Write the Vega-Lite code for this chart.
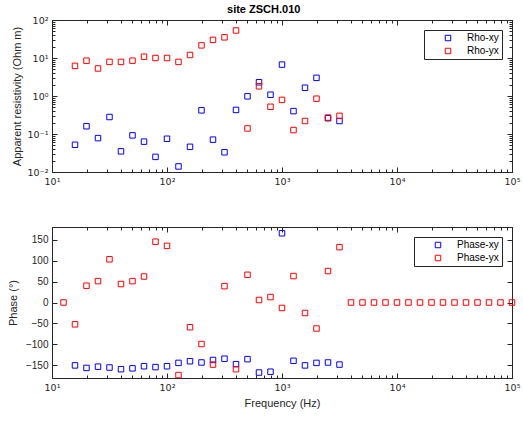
{
  "$schema": "https://vega.github.io/schema/vega-lite/v6.json",
  "padding": {"left": 6, "top": 3, "right": 0, "bottom": 0},
  "title": {"text": "site ZSCH.010", "fontSize": 11, "fontWeight": "bold", "font": "Liberation Sans", "color": "#000000", "offset": 0, "anchor": "middle"},
  "config": {
    "font": "Liberation Sans",
    "view": {"stroke": "#262626", "strokeWidth": 1},
    "axis": {"labelFont": "Liberation Sans", "titleFont": "Liberation Sans", "labelColor": "#262626", "titleColor": "#262626", "domainColor": "#262626", "tickColor": "#262626", "grid": false, "labelFontSize": 10, "titleFontSize": 11, "titleFontWeight": "normal", "labelFlush": false, "labelOverlap": false},
    "legend": {"orient": "top-right", "offset": 10, "strokeColor": "#262626", "fillColor": "white", "padding": 3, "symbolOffset": 16, "labelOffset": 14, "rowPadding": 3, "symbolSize": 30, "symbolStrokeWidth": 1, "labelFontSize": 10, "labelColor": "#000000", "labelFont": "Liberation Sans"}
  },
  "datasets": {
    "rho": [
      {"freq": 15.85, "series": "Rho-xy", "value": 0.052},
      {"freq": 19.95, "series": "Rho-xy", "value": 0.16},
      {"freq": 25.12, "series": "Rho-xy", "value": 0.078},
      {"freq": 31.62, "series": "Rho-xy", "value": 0.28},
      {"freq": 39.81, "series": "Rho-xy", "value": 0.035},
      {"freq": 50.12, "series": "Rho-xy", "value": 0.092},
      {"freq": 63.1, "series": "Rho-xy", "value": 0.063},
      {"freq": 79.43, "series": "Rho-xy", "value": 0.025},
      {"freq": 100, "series": "Rho-xy", "value": 0.075},
      {"freq": 125.9, "series": "Rho-xy", "value": 0.014},
      {"freq": 158.5, "series": "Rho-xy", "value": 0.046},
      {"freq": 199.5, "series": "Rho-xy", "value": 0.42},
      {"freq": 251.2, "series": "Rho-xy", "value": 0.071},
      {"freq": 316.2, "series": "Rho-xy", "value": 0.033},
      {"freq": 398.1, "series": "Rho-xy", "value": 0.43},
      {"freq": 501.2, "series": "Rho-xy", "value": 0.98},
      {"freq": 631, "series": "Rho-xy", "value": 2.3},
      {"freq": 794.3, "series": "Rho-xy", "value": 1.08},
      {"freq": 1000, "series": "Rho-xy", "value": 6.7},
      {"freq": 1259, "series": "Rho-xy", "value": 0.4},
      {"freq": 1585, "series": "Rho-xy", "value": 1.65},
      {"freq": 1995, "series": "Rho-xy", "value": 3.0},
      {"freq": 2512, "series": "Rho-xy", "value": 0.26},
      {"freq": 3162, "series": "Rho-xy", "value": 0.22},
      {"freq": 15.85, "series": "Rho-yx", "value": 6.2},
      {"freq": 19.95, "series": "Rho-yx", "value": 8.5},
      {"freq": 25.12, "series": "Rho-yx", "value": 5.3},
      {"freq": 31.62, "series": "Rho-yx", "value": 7.9},
      {"freq": 39.81, "series": "Rho-yx", "value": 7.9},
      {"freq": 50.12, "series": "Rho-yx", "value": 8.5},
      {"freq": 63.1, "series": "Rho-yx", "value": 10.8},
      {"freq": 79.43, "series": "Rho-yx", "value": 10},
      {"freq": 100, "series": "Rho-yx", "value": 10},
      {"freq": 125.9, "series": "Rho-yx", "value": 7.9},
      {"freq": 158.5, "series": "Rho-yx", "value": 12},
      {"freq": 199.5, "series": "Rho-yx", "value": 21.5},
      {"freq": 251.2, "series": "Rho-yx", "value": 30},
      {"freq": 316.2, "series": "Rho-yx", "value": 35},
      {"freq": 398.1, "series": "Rho-yx", "value": 53},
      {"freq": 501.2, "series": "Rho-yx", "value": 0.14},
      {"freq": 631, "series": "Rho-yx", "value": 1.8},
      {"freq": 794.3, "series": "Rho-yx", "value": 0.52},
      {"freq": 1000, "series": "Rho-yx", "value": 0.79},
      {"freq": 1259, "series": "Rho-yx", "value": 0.127},
      {"freq": 1585, "series": "Rho-yx", "value": 0.22},
      {"freq": 1995, "series": "Rho-yx", "value": 0.85},
      {"freq": 2512, "series": "Rho-yx", "value": 0.27},
      {"freq": 3162, "series": "Rho-yx", "value": 0.3}
    ],
    "phase": [
      {"freq": 15.85, "series": "Phase-xy", "value": -150},
      {"freq": 19.95, "series": "Phase-xy", "value": -156},
      {"freq": 25.12, "series": "Phase-xy", "value": -153},
      {"freq": 31.62, "series": "Phase-xy", "value": -155},
      {"freq": 39.81, "series": "Phase-xy", "value": -159},
      {"freq": 50.12, "series": "Phase-xy", "value": -157},
      {"freq": 63.1, "series": "Phase-xy", "value": -152},
      {"freq": 79.43, "series": "Phase-xy", "value": -154},
      {"freq": 100, "series": "Phase-xy", "value": -152},
      {"freq": 125.9, "series": "Phase-xy", "value": -144},
      {"freq": 158.5, "series": "Phase-xy", "value": -140},
      {"freq": 199.5, "series": "Phase-xy", "value": -143},
      {"freq": 251.2, "series": "Phase-xy", "value": -137},
      {"freq": 316.2, "series": "Phase-xy", "value": -134},
      {"freq": 398.1, "series": "Phase-xy", "value": -147},
      {"freq": 501.2, "series": "Phase-xy", "value": -135},
      {"freq": 631, "series": "Phase-xy", "value": -167},
      {"freq": 794.3, "series": "Phase-xy", "value": -165},
      {"freq": 1000, "series": "Phase-xy", "value": 165},
      {"freq": 1259, "series": "Phase-xy", "value": -139},
      {"freq": 1585, "series": "Phase-xy", "value": -150},
      {"freq": 1995, "series": "Phase-xy", "value": -144},
      {"freq": 2512, "series": "Phase-xy", "value": -143},
      {"freq": 3162, "series": "Phase-xy", "value": -148},
      {"freq": 12.59, "series": "Phase-yx", "value": 0},
      {"freq": 15.85, "series": "Phase-yx", "value": -52},
      {"freq": 19.95, "series": "Phase-yx", "value": 40},
      {"freq": 25.12, "series": "Phase-yx", "value": 51},
      {"freq": 31.62, "series": "Phase-yx", "value": 103},
      {"freq": 39.81, "series": "Phase-yx", "value": 44},
      {"freq": 50.12, "series": "Phase-yx", "value": 51},
      {"freq": 63.1, "series": "Phase-yx", "value": 62},
      {"freq": 79.43, "series": "Phase-yx", "value": 145},
      {"freq": 100, "series": "Phase-yx", "value": 135},
      {"freq": 125.9, "series": "Phase-yx", "value": -173},
      {"freq": 158.5, "series": "Phase-yx", "value": -59},
      {"freq": 199.5, "series": "Phase-yx", "value": -99},
      {"freq": 251.2, "series": "Phase-yx", "value": -148},
      {"freq": 316.2, "series": "Phase-yx", "value": 39},
      {"freq": 398.1, "series": "Phase-yx", "value": -159},
      {"freq": 501.2, "series": "Phase-yx", "value": 66},
      {"freq": 631, "series": "Phase-yx", "value": 6},
      {"freq": 794.3, "series": "Phase-yx", "value": 13},
      {"freq": 1000, "series": "Phase-yx", "value": -13},
      {"freq": 1259, "series": "Phase-yx", "value": 63},
      {"freq": 1585, "series": "Phase-yx", "value": -25},
      {"freq": 1995, "series": "Phase-yx", "value": -62},
      {"freq": 2512, "series": "Phase-yx", "value": 75},
      {"freq": 3162, "series": "Phase-yx", "value": 132},
      {"freq": 3981, "series": "Phase-yx", "value": 0},
      {"freq": 5012, "series": "Phase-yx", "value": 0},
      {"freq": 6310, "series": "Phase-yx", "value": 0},
      {"freq": 7943, "series": "Phase-yx", "value": 0},
      {"freq": 10000, "series": "Phase-yx", "value": 0},
      {"freq": 12589, "series": "Phase-yx", "value": 0},
      {"freq": 15849, "series": "Phase-yx", "value": 0},
      {"freq": 19953, "series": "Phase-yx", "value": 0},
      {"freq": 25119, "series": "Phase-yx", "value": 0},
      {"freq": 31623, "series": "Phase-yx", "value": 0},
      {"freq": 39811, "series": "Phase-yx", "value": 0},
      {"freq": 50119, "series": "Phase-yx", "value": 0},
      {"freq": 63096, "series": "Phase-yx", "value": 0},
      {"freq": 79433, "series": "Phase-yx", "value": 0},
      {"freq": 100000, "series": "Phase-yx", "value": 0}
    ]
  },
  "spacing": 55,
  "bounds": "flush",
  "resolve": {"scale": {"color": "independent"}, "legend": {"color": "independent"}},
  "vconcat": [
    {
      "width": 460,
      "height": 152,
      "data": {"name": "rho"},
      "resolve": {"axis": {"x": "independent", "y": "independent"}},
      "layer": [
        {
          "mark": {"type": "point", "shape": "square", "filled": false, "size": 30, "strokeWidth": 1, "opacity": 1},
          "encoding": {
            "x": {"field": "freq", "type": "quantitative", "scale": {"type": "log", "domain": [10, 100000], "nice": false},
              "axis": {"orient": "bottom", "title": null, "labelFont": "DejaVu Sans", "labelFontSize": 9.5, "values": [10,20,30,40,50,60,70,80,90,100,200,300,400,500,600,700,800,900,1000,2000,3000,4000,5000,6000,7000,8000,9000,10000,20000,30000,40000,50000,60000,70000,80000,90000,100000],
                "labelExpr": "datum.value==10?'10¹':datum.value==100?'10²':datum.value==1000?'10³':datum.value==10000?'10⁴':datum.value==100000?'10⁵':''",
                "tickSize": {"condition": {"test": "abs(log(datum.value)/LN10-round(log(datum.value)/LN10))<1e-6", "value": -5}, "value": -3}, "labelPadding": 9}},
            "y": {"field": "value", "type": "quantitative", "scale": {"type": "log", "domain": [0.01, 100], "nice": false},
              "axis": {"orient": "left", "title": "Apparent resistivity (Ohm m)", "labelFont": "DejaVu Sans", "labelFontSize": 9.5, "values": [0.01,0.02,0.03,0.04,0.05,0.06,0.07,0.08,0.09,0.1,0.2,0.3,0.4,0.5,0.6,0.7,0.8,0.9,1,2,3,4,5,6,7,8,9,10,20,30,40,50,60,70,80,90,100],
                "labelExpr": "datum.value==0.01?'10⁻²':datum.value==0.1?'10⁻¹':datum.value==1?'10⁰':datum.value==10?'10¹':datum.value==100?'10²':''",
                "tickSize": {"condition": {"test": "abs(log(datum.value)/LN10-round(log(datum.value)/LN10))<1e-6", "value": -5}, "value": -3}, "labelPadding": 9, "titlePadding": 5}},
            "color": {"field": "series", "type": "nominal", "scale": {"domain": ["Rho-xy", "Rho-yx"], "range": ["#0000ff", "#ff0000"]}, "legend": {"title": null}}
          }
        },
        {
          "mark": {"type": "point", "opacity": 0},
          "encoding": {
            "x": {"field": "freq", "type": "quantitative",
              "axis": {"orient": "top", "title": null, "labels": false, "values": [10,20,30,40,50,60,70,80,90,100,200,300,400,500,600,700,800,900,1000,2000,3000,4000,5000,6000,7000,8000,9000,10000,20000,30000,40000,50000,60000,70000,80000,90000,100000],
                "tickSize": {"condition": {"test": "abs(log(datum.value)/LN10-round(log(datum.value)/LN10))<1e-6", "value": -5}, "value": -3}}},
            "y": {"field": "value", "type": "quantitative",
              "axis": {"orient": "right", "title": null, "labels": false, "values": [0.01,0.02,0.03,0.04,0.05,0.06,0.07,0.08,0.09,0.1,0.2,0.3,0.4,0.5,0.6,0.7,0.8,0.9,1,2,3,4,5,6,7,8,9,10,20,30,40,50,60,70,80,90,100],
                "tickSize": {"condition": {"test": "abs(log(datum.value)/LN10-round(log(datum.value)/LN10))<1e-6", "value": -5}, "value": -3}}}
          }
        }
      ]
    },
    {
      "width": 460,
      "height": 151,
      "data": {"name": "phase"},
      "resolve": {"axis": {"x": "independent", "y": "independent"}},
      "layer": [
        {
          "mark": {"type": "point", "shape": "square", "filled": false, "size": 30, "strokeWidth": 1, "opacity": 1},
          "encoding": {
            "x": {"field": "freq", "type": "quantitative", "scale": {"type": "log", "domain": [10, 100000], "nice": false},
              "axis": {"orient": "bottom", "title": "Frequency (Hz)", "labelFont": "DejaVu Sans", "labelFontSize": 9.5, "values": [10,20,30,40,50,60,70,80,90,100,200,300,400,500,600,700,800,900,1000,2000,3000,4000,5000,6000,7000,8000,9000,10000,20000,30000,40000,50000,60000,70000,80000,90000,100000],
                "labelExpr": "datum.value==10?'10¹':datum.value==100?'10²':datum.value==1000?'10³':datum.value==10000?'10⁴':datum.value==100000?'10⁵':''",
                "tickSize": {"condition": {"test": "abs(log(datum.value)/LN10-round(log(datum.value)/LN10))<1e-6", "value": -5}, "value": -3}, "labelPadding": 9, "titlePadding": 4}},
            "y": {"field": "value", "type": "quantitative", "scale": {"domain": [-180, 180], "nice": false},
              "axis": {"orient": "left", "title": "Phase (°)", "values": [-150,-100,-50,0,50,100,150], "tickSize": -5, "labelPadding": 9, "titlePadding": 7}},
            "color": {"field": "series", "type": "nominal", "scale": {"domain": ["Phase-xy", "Phase-yx"], "range": ["#0000ff", "#ff0000"]}, "legend": {"title": null}}
          }
        },
        {
          "mark": {"type": "point", "opacity": 0},
          "encoding": {
            "x": {"field": "freq", "type": "quantitative",
              "axis": {"orient": "top", "title": null, "labels": false, "values": [10,20,30,40,50,60,70,80,90,100,200,300,400,500,600,700,800,900,1000,2000,3000,4000,5000,6000,7000,8000,9000,10000,20000,30000,40000,50000,60000,70000,80000,90000,100000],
                "tickSize": {"condition": {"test": "abs(log(datum.value)/LN10-round(log(datum.value)/LN10))<1e-6", "value": -5}, "value": -3}}},
            "y": {"field": "value", "type": "quantitative",
              "axis": {"orient": "right", "title": null, "labels": false, "values": [-150,-100,-50,0,50,100,150], "tickSize": -5}}
          }
        }
      ]
    }
  ]
}
